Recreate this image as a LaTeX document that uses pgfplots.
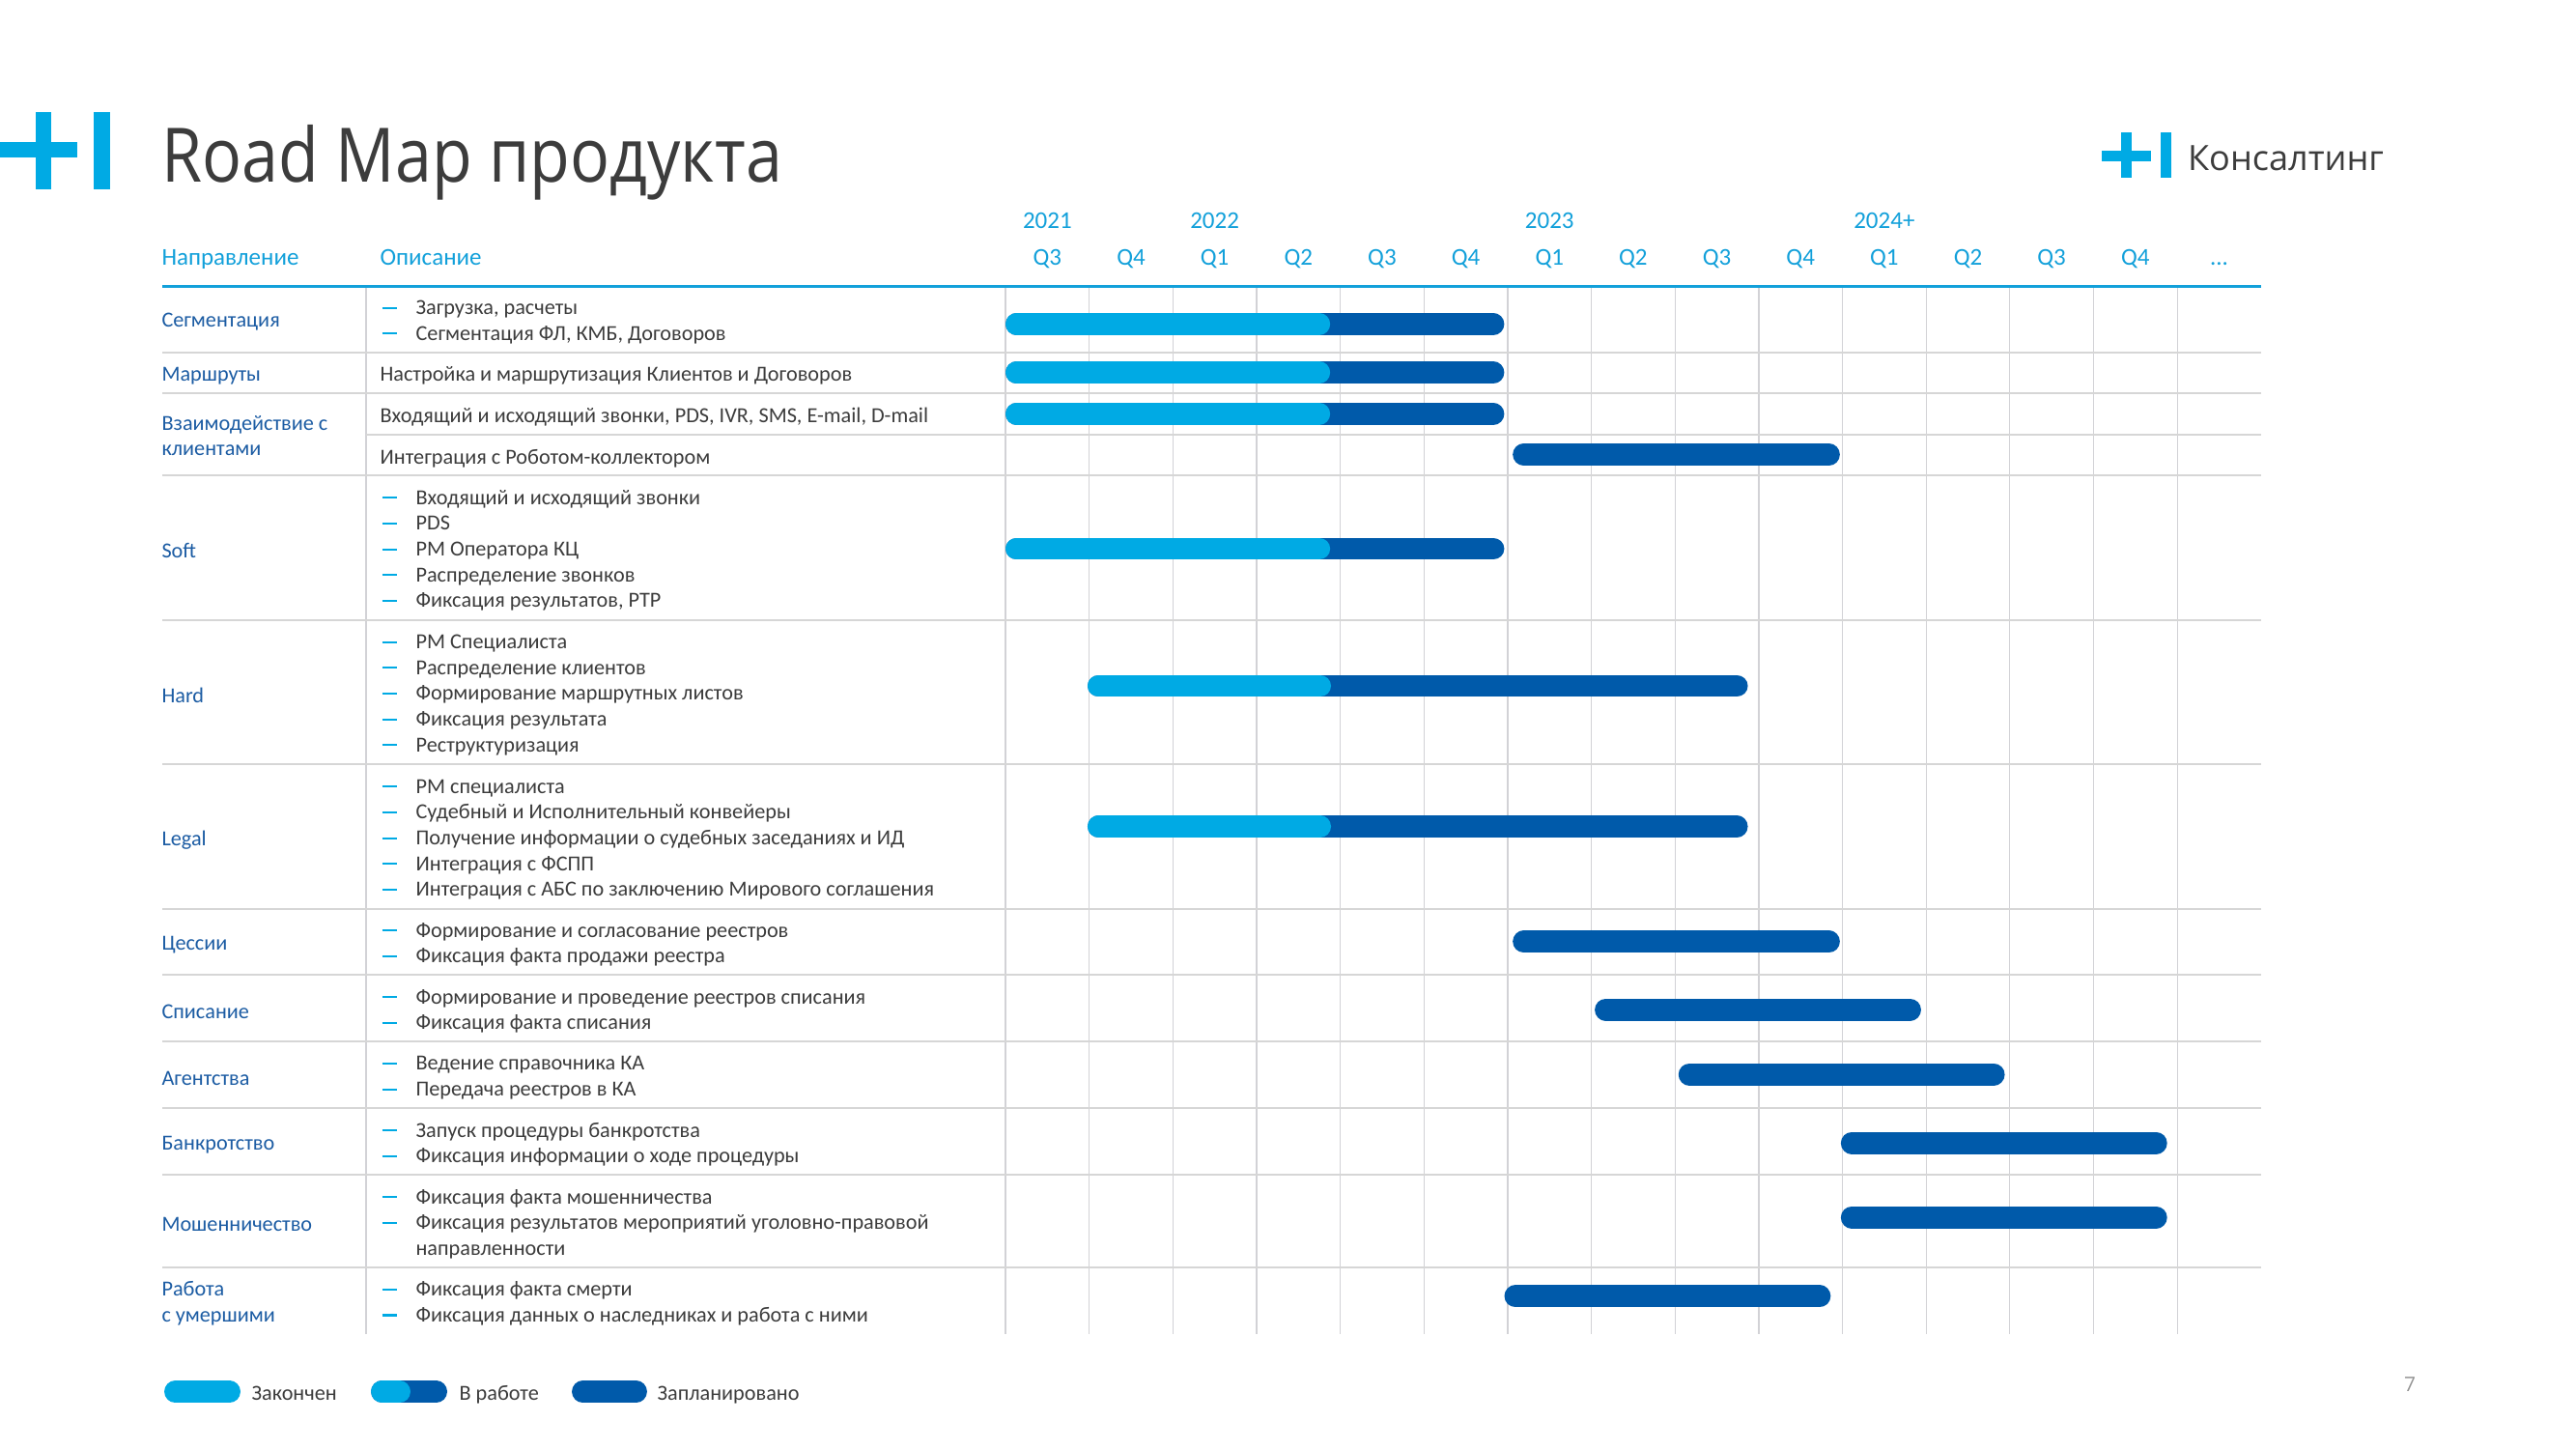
\documentclass[border=0pt]{standalone}
\usepackage{fontspec}
\setmainfont{Carlito}
\newfontfamily\titlefont[FakeStretch=0.875]{Open Sans}
\newfontfamily\logofont{Open Sans}
\usepackage{pgfplots}
\pgfplotsset{compat=1.18}

\definecolor{cyanbar}{RGB}{0,170,228}
\definecolor{darkbar}{RGB}{0,90,170}
\definecolor{headcol}{RGB}{18,160,218}
\definecolor{dircol}{RGB}{28,92,163}
\definecolor{txt}{RGB}{60,60,60}
\definecolor{gridc}{RGB}{210,210,214}
\definecolor{sepc}{RGB}{214,214,214}
\definecolor{pgnum}{RGB}{150,150,150}

\newcommand{\bul}{\makebox[12.6pt][l]{\textcolor{cyanbar}{\rule[2.1pt]{5.6pt}{0.75pt}}}}
\newcommand{\ind}{\hspace*{12.6pt}}

\tikzset{
  desc/.style={anchor=west, inner sep=0pt, text=txt, font=\fontsize{8}{9.6}\selectfont},
  dir/.style={anchor=west, inner sep=0pt, text=dircol, font=\fontsize{8}{9.6}\selectfont},
  head/.style={anchor=base, inner sep=0pt, text=headcol, font=\fontsize{9}{10.8}\selectfont},
  dk/.style={color=darkbar, line width=8.2pt, line cap=round},
  lt/.style={color=cyanbar, line width=8.2pt, line cap=round}
}

\begin{document}
\begin{tikzpicture}
\begin{axis}[width=960pt, height=540pt, scale only axis,
  xmin=-12.014, xmax=18.765, ymin=0, ymax=1500, y dir=reverse,
  hide axis, clip=false]

% vertical grid lines
\pgfplotsinvokeforeach{0,1,2,3,4,5,6,7,8,9,10,11,12,13,14}{
  \draw[gridc, line width=0.45pt] (axis cs:#1,296) -- (axis cs:#1,1381);
}
% column divider
\draw[gridc, line width=0.45pt] (axis cs:-7.64,296) -- (axis cs:-7.64,1381);
% row separators
\pgfplotsinvokeforeach{364.5,407,492,641.5,791,940.5,1008.8,1078,1146.7,1216,1311.5}{
  \draw[sepc, line width=0.75pt] (axis cs:-10.07,#1) -- (axis cs:15,#1);
}
\draw[sepc, line width=0.75pt] (axis cs:-7.64,449.5) -- (axis cs:15,449.5);
% header line
\draw[headcol, line width=1.1pt] (axis cs:-10.07,296) -- (axis cs:15,296);

% bars (dark = planned, light = finished part)
\addplot[dk, no marks] coordinates {(0.132,335.3) (5.828,335.3)};
\addplot[lt, no marks] coordinates {(0.132,335.3) (3.748,335.3)};
\addplot[dk, no marks] coordinates {(0.132,385.7) (5.828,385.7)};
\addplot[lt, no marks] coordinates {(0.132,385.7) (3.748,385.7)};
\addplot[dk, no marks] coordinates {(0.132,428.3) (5.828,428.3)};
\addplot[lt, no marks] coordinates {(0.132,428.3) (3.748,428.3)};
\addplot[dk, no marks] coordinates {(6.192,470.5) (9.838,470.5)};
\addplot[dk, no marks] coordinates {(0.132,568) (5.828,568)};
\addplot[lt, no marks] coordinates {(0.132,568) (3.748,568)};
\addplot[dk, no marks] coordinates {(1.112,710) (8.738,710)};
\addplot[lt, no marks] coordinates {(1.112,710) (3.758,710)};
\addplot[dk, no marks] coordinates {(1.112,855.5) (8.738,855.5)};
\addplot[lt, no marks] coordinates {(1.112,855.5) (3.758,855.5)};
\addplot[dk, no marks] coordinates {(6.192,974.7) (9.838,974.7)};
\addplot[dk, no marks] coordinates {(7.172,1045) (10.808,1045)};
\addplot[dk, no marks] coordinates {(8.172,1112) (11.808,1112)};
\addplot[dk, no marks] coordinates {(10.112,1183) (13.748,1183)};
\addplot[dk, no marks] coordinates {(10.112,1260) (13.748,1260)};
\addplot[dk, no marks] coordinates {(6.092,1341.7) (9.728,1341.7)};

% legend bars
\addplot[lt, no marks] coordinates {(-9.920,1440.5) (-9.272,1440.5)};
\addplot[dk, no marks] coordinates {(-7.450,1440.5) (-6.802,1440.5)};
\addplot[lt, no marks] coordinates {(-7.450,1440.5) (-7.241,1440.5)};
\addplot[dk, no marks] coordinates {(-5.050,1440.5) (-4.414,1440.5)};
\node[anchor=base west, inner sep=0pt, text=txt, font=\fontsize{8}{9.6}\selectfont] at (axis cs:-9.013,1449) {Закончен};
\node[anchor=base west, inner sep=0pt, text=txt, font=\fontsize{8}{9.6}\selectfont] at (axis cs:-6.532,1449) {В работе};
\node[anchor=base west, inner sep=0pt, text=txt, font=\fontsize{8}{9.6}\selectfont] at (axis cs:-4.166,1449) {Запланировано};

% logos
\fill[cyanbar] (axis cs:-12.014,147) rectangle (axis cs:-11.091,163);
\fill[cyanbar] (axis cs:-11.587,116) rectangle (axis cs:-11.402,196);
\fill[cyanbar] (axis cs:-10.894,116) rectangle (axis cs:-10.698,196);
\fill[cyanbar] (axis cs:13.099,155.5) rectangle (axis cs:13.688,166.5);
\fill[cyanbar] (axis cs:13.329,137) rectangle (axis cs:13.456,184);
\fill[cyanbar] (axis cs:13.803,137) rectangle (axis cs:13.930,184);
\node[anchor=base west, inner sep=0pt, text=txt, font=\logofont\fontsize{13}{15}\selectfont] at (axis cs:14.12,176.7) {Консалтинг};

% title
\node[anchor=base west, inner sep=0pt, text=txt, font=\titlefont\fontsize{28}{32}\selectfont] at (axis cs:-10.087,188.8) {Road Map продукта};

% page number
\node[anchor=base, inner sep=0pt, text=pgnum, font=\logofont\fontsize{7.5}{9}\selectfont] at (axis cs:16.78,1440.7) {7};

% header
\node[head, anchor=base west] at (axis cs:-10.087,274) {Направление};
\node[head, anchor=base west] at (axis cs:-7.478,274) {Описание};
\node[head] at (axis cs:0.5,236.4) {2021};
\node[head] at (axis cs:2.5,236.4) {2022};
\node[head] at (axis cs:6.5,236.4) {2023};
\node[head] at (axis cs:10.5,236.4) {2024+};
\node[head] at (axis cs:0.5,274) {Q3};
\node[head] at (axis cs:1.5,274) {Q4};
\node[head] at (axis cs:2.5,274) {Q1};
\node[head] at (axis cs:3.5,274) {Q2};
\node[head] at (axis cs:4.5,274) {Q3};
\node[head] at (axis cs:5.5,274) {Q4};
\node[head] at (axis cs:6.5,274) {Q1};
\node[head] at (axis cs:7.5,274) {Q2};
\node[head] at (axis cs:8.5,274) {Q3};
\node[head] at (axis cs:9.5,274) {Q4};
\node[head] at (axis cs:10.5,274) {Q1};
\node[head] at (axis cs:11.5,274) {Q2};
\node[head] at (axis cs:12.5,274) {Q3};
\node[head] at (axis cs:13.5,274) {Q4};
\node[head] at (axis cs:14.5,274) {...};

% direction labels
\node[dir] at (axis cs:-10.087,333.5) {Сегментация};
\node[dir] at (axis cs:-10.087,389.2) {Маршруты};
\node[dir] at (axis cs:-10.087,453) {\begin{tabular}{@{}l@{}}Взаимодействие с\\клиентами\end{tabular}};
\node[dir] at (axis cs:-10.087,570.2) {Soft};
\node[dir] at (axis cs:-10.087,719.5) {Hard};
\node[dir] at (axis cs:-10.087,869.2) {Legal};
\node[dir] at (axis cs:-10.087,978.1) {Цессии};
\node[dir] at (axis cs:-10.087,1046.9) {Списание};
\node[dir] at (axis cs:-10.087,1115.8) {Агентства};
\node[dir] at (axis cs:-10.087,1184.9) {Банкротство};
\node[dir] at (axis cs:-10.087,1267.2) {Мошенничество};
\node[dir] at (axis cs:-10.087,1349.5) {\begin{tabular}{@{}l@{}}Работа\\с умершими\end{tabular}};

% descriptions
\node[desc] at (axis cs:-7.455,333.5) {\begin{tabular}{@{}l@{}}\bul Загрузка, расчеты\\\bul Сегментация ФЛ, КМБ, Договоров\end{tabular}};
\node[desc] at (axis cs:-7.478,389.2) {Настройка и маршрутизация Клиентов и Договоров};
\node[desc] at (axis cs:-7.478,431.8) {Входящий и исходящий звонки, PDS, IVR, SMS, E-mail, D-mail};
\node[desc] at (axis cs:-7.478,474.3) {Интеграция с Роботом-коллектором};
\node[desc] at (axis cs:-7.455,570.2) {\begin{tabular}{@{}l@{}}\bul Входящий и исходящий звонки\\\bul PDS\\\bul РМ Оператора КЦ\\\bul Распределение звонков\\\bul Фиксация результатов, PTP\end{tabular}};
\node[desc] at (axis cs:-7.455,719.5) {\begin{tabular}{@{}l@{}}\bul РМ Специалиста\\\bul Распределение клиентов\\\bul Формирование маршрутных листов\\\bul Фиксация результата\\\bul Реструктуризация\end{tabular}};
\node[desc] at (axis cs:-7.455,869.2) {\begin{tabular}{@{}l@{}}\bul РМ специалиста\\\bul Судебный и Исполнительный конвейеры\\\bul Получение информации о судебных заседаниях и ИД\\\bul Интеграция с ФСПП\\\bul Интеграция с АБС по заключению Мирового соглашения\end{tabular}};
\node[desc] at (axis cs:-7.455,978.1) {\begin{tabular}{@{}l@{}}\bul Формирование и согласование реестров\\\bul Фиксация факта продажи реестра\end{tabular}};
\node[desc] at (axis cs:-7.455,1046.9) {\begin{tabular}{@{}l@{}}\bul Формирование и проведение реестров списания\\\bul Фиксация факта списания\end{tabular}};
\node[desc] at (axis cs:-7.455,1115.8) {\begin{tabular}{@{}l@{}}\bul Ведение справочника КА\\\bul Передача реестров в КА\end{tabular}};
\node[desc] at (axis cs:-7.455,1184.9) {\begin{tabular}{@{}l@{}}\bul Запуск процедуры банкротства\\\bul Фиксация информации о ходе процедуры\end{tabular}};
\node[desc] at (axis cs:-7.455,1267.2) {\begin{tabular}{@{}l@{}}\bul Фиксация факта мошенничества\\\bul Фиксация результатов мероприятий уголовно-правовой\\\ind направленности\end{tabular}};
\node[desc] at (axis cs:-7.455,1349.5) {\begin{tabular}{@{}l@{}}\bul Фиксация факта смерти\\\bul Фиксация данных о наследниках и работа с ними\end{tabular}};
\end{axis}
\pgfresetboundingbox
\path (current axis.south west) rectangle (current axis.north east);
\end{tikzpicture}
\end{document}
